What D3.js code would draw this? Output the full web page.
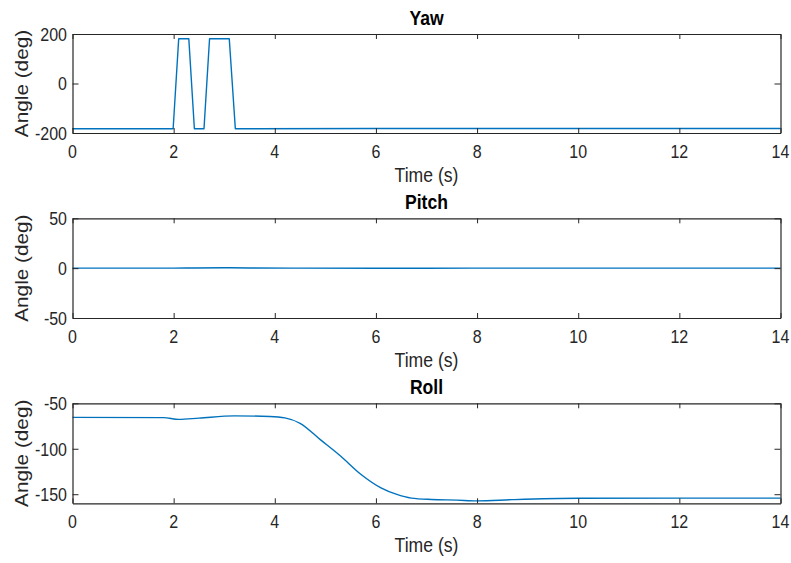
<!DOCTYPE html>
<html>
<head>
<meta charset="utf-8">
<script src="https://cdn.jsdelivr.net/npm/d3@7"></script>
<style>
  html, body { margin: 0; padding: 0; background: #fff; }
  svg { display: block; }
  text { font-family: "Liberation Sans", Arial, Helvetica, sans-serif; }
</style>
</head>
<body>
<svg id="chart" width="791" height="563"></svg>
<script>
// ---------------- data ----------------
const xTicks = [0, 2, 4, 6, 8, 10, 12, 14];

const yawTitle = "Yaw";
const yawTime  = [0, 1.99, 2.10, 2.30, 2.41, 2.60, 2.71, 3.10, 3.22, 6, 9, 14];
const yawAngle = [-183, -183, 181, 181, -183, -183, 181, 181, -183, -182, -182, -182];
const yawDomain = [-200, 200];
const yawTicks = [-200, 0, 200];

const pitchTitle = "Pitch";
const pitchTime  = [0, 1, 2, 2.4, 3.0, 3.5, 4.5, 6, 8, 10, 12, 14];
const pitchAngle = [0, 0, 0, 0.2, 0.4, 0.2, 0, -0.1, 0, 0, 0, 0];
const pitchDomain = [-50, 50];
const pitchTicks = [-50, 0, 50];

const rollTitle = "Roll";
const rollTime  = [0, 1.8, 2.1, 2.5, 3.2, 3.9, 4.2, 4.5, 4.9, 5.3, 5.7, 6.1, 6.4, 6.7, 7.1, 7.6, 8.0, 8.7, 10, 12, 14];
const rollAngle = [-65.5, -65.8, -67.7, -66.3, -63.8, -64.5, -66, -72, -90, -108, -128, -143, -150, -154.3, -155.8, -156.5, -157.3, -156, -154.5, -154.3, -154.3];
const rollDomain = [-160, -50];
const rollTicks = [-150, -100, -50];

const xLabel = "Time (s)";
const yLabel = "Angle (deg)";

// ---------------- layout ----------------
const svg = d3.select("#chart");
const left = 72.5, right = 780.5;
const STRETCH = 1.18;
const axisColor = "#262626";
const lineColor = "#0072BD";

const panels = [
  {title: yawTitle, t: yawTime, v: yawAngle, domain: yawDomain, ticks: yawTicks, top: 34, bottom: 133, curve: d3.curveLinear},
  {title: pitchTitle, t: pitchTime, v: pitchAngle, domain: pitchDomain, ticks: pitchTicks, top: 218.3, bottom: 318, curve: d3.curveMonotoneX},
  {title: rollTitle, t: rollTime, v: rollAngle, domain: rollDomain, ticks: rollTicks, top: 403.3, bottom: 503.3, curve: d3.curveMonotoneX}
];

function addText(g, x, y, str, opts) {
  const tr = `translate(${x},${y}) scale(1,${STRETCH})` + (opts.rotate ? " rotate(-90)" : "");
  return g.append("text")
    .attr("transform", tr)
    .attr("text-anchor", opts.anchor || "middle")
    .attr("font-size", opts.size)
    .attr("font-weight", opts.bold ? "bold" : "normal")
    .attr("fill", opts.color || axisColor)
    .text(str);
}

const x = d3.scaleLinear().domain([0, 14]).range([left, right]);

panels.forEach(p => {
  const g = svg.append("g");
  const y = d3.scaleLinear().domain(p.domain).range([p.bottom, p.top]);

  // data line
  const pts = p.t.map((t, i) => [t, p.v[i]]);
  g.append("path")
    .datum(pts)
    .attr("fill", "none")
    .attr("stroke", lineColor)
    .attr("stroke-width", 1.4)
    .attr("stroke-linejoin", "round")
    .attr("d", d3.line().x(d => x(d[0])).y(d => y(d[1])).curve(p.curve));

  // axes using d3 axis (inward ticks)
  const xb = g.append("g").attr("transform", `translate(0,${p.bottom})`)
    .call(d3.axisBottom(x).tickValues(xTicks).tickSizeInner(-5).tickSizeOuter(0).tickFormat(""));
  const xt = g.append("g").attr("transform", `translate(0,${p.top})`)
    .call(d3.axisTop(x).tickValues(xTicks).tickSizeInner(-5).tickSizeOuter(0).tickFormat(""));
  const yl = g.append("g").attr("transform", `translate(${left},0)`)
    .call(d3.axisLeft(y).tickValues(p.ticks).tickSizeInner(-6).tickSizeOuter(0).tickFormat(""));
  const yr = g.append("g").attr("transform", `translate(${right},0)`)
    .call(d3.axisRight(y).tickValues(p.ticks).tickSizeInner(-6).tickSizeOuter(0).tickFormat(""));
  [xb, xt, yl, yr].forEach(a => {
    a.selectAll("path.domain").attr("stroke", axisColor).attr("stroke-width", 1.2);
    a.selectAll(".tick line").attr("stroke", axisColor).attr("stroke-width", 1);
  });

  // tick labels
  xTicks.forEach(tv => addText(g, x(tv), p.bottom + 24.5, String(tv), {size: 16}));
  p.ticks.forEach(tv => addText(g, left - 5.5, y(tv) + 6.8, String(tv), {size: 16, anchor: "end"}));

  // axis labels and title
  addText(g, (left + right) / 2, p.bottom + 49, xLabel, {size: 17.6});
  addText(g, 28, (p.top + p.bottom) / 2, yLabel, {size: 17.6, rotate: true});
  addText(g, (left + right) / 2, p.top - 9.5, p.title, {size: 17.6, bold: true, color: "#000"});
});
</script>
</body>
</html>
